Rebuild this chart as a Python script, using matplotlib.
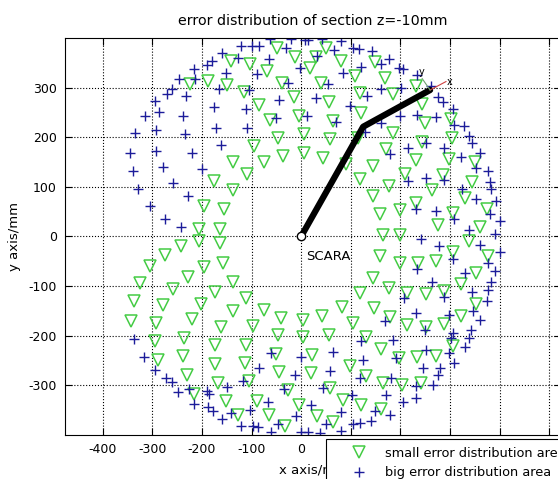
import matplotlib.pyplot as plt
from matplotlib.lines import Line2D

plt.rcParams['font.family'] = ['DejaVu Sans']
plt.rcParams['axes.unicode_minus'] = False

# small error points (green triangles), x/y in mm
small_x = [-48, -12, 17, -141, -104, -68, -225, -188, -149, -115, -39, -15, -84, -62, -5, -47, 5, -95,
           -37, 5, -138, -74, -110, -175, -138, -196, -156, -205, -164,
           50, 30, 81, 148, 109, 170, 41, 118, 185, 231, 56, 244, 121, 64, 249, 185, 303, 58, 305, 115,
           44, 172, 244, 231, 299, 350, 145, 209, 286, 118, 177, 345, 145, 264, 330, 232, 158, 199, 306,
           374, 276, 360, 165, 200, 91,
           -205, -164, -242, -275, -305, -196, -158, -228, -325, -138, -258, -173, -336, -279, -201, -111,
           -342, -292, -221, -138, -75, -40, 3, -162, -97, -295, -236, -173, -111, -46, 3, -288, -238,
           -173, -113, -50, -231, -168, -106, -44, 20, -215, -151, -89, -26, -5, -128, -64, -32,
           159, 199, 236, 272, 307, 338, 377, 353, 144, 177, 213, 251, 287, 323, 118, 83, 42, 146, 179,
           213, 251, 287, 323, 353, 105, 56, 131, 160, 197, 234, 272, 307, 21, 98, 131, 166, 204, 242,
           58, 84, 121, 160, 31, 64]
small_y = [379, 362, 340, 354, 347, 334, 307, 313, 305, 290, 310, 280, 264, 235, 243, 199, 206, 183,
           162, 169, 150, 149, 126, 112, 94, 62, 55, 15, 15,
           379, 362, 354, 352, 323, 320, 310, 289, 287, 303, 270, 266, 248, 233, 228, 209, 236, 196, 199, 199,
           159, 176, 191, 154, 157, 150, 142, 126, 123, 115, 101, 110, 81, 94, 77, 67, 45, 54, 48,
           55, 23, 18, 3, 3, 145,
           -10, -13, -20, -37, -60, -62, -54, -81, -94, -92, -105, -111, -131, -139, -136, -124,
           -170, -174, -166, -150, -148, -164, -168, -183, -181, -211, -205, -218, -218, -199, -203, -248, -240,
           -258, -255, -237, -280, -295, -292, -273, -276, -317, -331, -331, -309, -339, -360, -359, -381,
           -40, -54, -54, -50, -32, -9, -40, -74, -84, -103, -114, -116, -109, -96, -114, -143, -160, -144, -163,
           -179, -183, -177, -161, -136, -174, -199, -203, -226, -244, -242, -240, -221, -238, -262, -282, -295, -300,
           -295, -305, -329, -340, -347, -362, -374]

# big error points (blue plus)
big_x = [-62, -21, 7, 14, -121, -99, -84, -160, -128, -180, -190, -64, -31, -2, -215, -151, -89, -213,
         -246, -260, -270, -232, -166, -106, -27, -294, -286, -315, -238, -176, -111, -44, -50, 12, -334,
         -293, -235, -171, -109, -344, -292, -221, -161, -339, -279, -200, -328, -258, -305, -228, -275, -242,
         43, 81, 105, 117, 142, 177, 31, 66, 121, 160, 197, 205, 234, 85, 54, 162, 202, 262, 30, 98, 132,
         199, 234, 271, 276, 286, 307, 71, 162, 309, 328, 338, 345, 128, 215, 251, 289, 323, 361, 179,
         353, 377, 215, 251, 288, 325, 380, 383, 352, 393, 232, 272, 309, 380, 400, 338,
         -336, -317, -294, -272, -260, -248, -226, -215, -189, -185, -188, -178, -149, -160, -141, -117,
         -104, -84, -67, -60, -121, -97, -87, -46, -60, -35, -13, 0, -10, 0, 13, 19,
         242, 278, 307, 361, 390, 400, 234, 330, 377, 390, 264, 345, 383, 377, 207, 289, 374, 231, 170,
         299, 346, 361, 249, 306, 303, 343, 338, 121, 185, 331, 251, 64, 125, 192, 299, 309, 246, 280,
         276, 58, 118, 182, 231, 266, 44, 103, 172, 232, 205, 81, 148, 179, 140, 105, 118, 51, 81, 38]
big_y = [397, 397, 396, 396, 383, 383, 383, 369, 360, 354, 345, 358, 379, 340, 337, 330, 328, 317,
         317, 297, 287, 282, 298, 295, 309, 273, 251, 243, 243, 260, 256, 275, 238, 243, 208,
         215, 206, 219, 219, 169, 172, 168, 184, 132, 139, 136, 95, 107, 62, 81, 36, 20,
         397, 394, 379, 377, 374, 358, 364, 376, 342, 347, 339, 337, 325, 330, 307, 297, 300, 303, 278, 262, 283,
         243, 245, 240, 280, 270, 256, 231, 228, 224, 223, 203, 189, 211, 179, 188, 179, 161, 169, 166,
         137, 132, 112, 117, 114, 95, 109, 95, 75, 72, 56, 52, 35, 45, 32, 13,
         -206, -242, -270, -285, -293, -314, -307, -338, -312, -317, -344, -352, -304, -367, -356, -292,
         -349, -265, -334, -235, -381, -381, -383, -378, -394, -307, -279, -242, -362, -393, -393, -339,
         -5, -20, -45, -18, 4, -32, -65, -74, -54, -70, -91, -111, -91, -107, -124, -123, -131, -154, -171,
         -159, -151, -168, -188, -195, -205, -188, -205, -210, -208, -223, -228, -232, -248, -245, -235, -255, -265, -265,
         -279, -272, -285, -285, -302, -300, -305, -320, -320, -326, -334, -354, -352, -359, -372, -378, -376, -378, -391, -396]

# SCARA arm: base, elbow, end effector
arm_x = [0, 125, 260]
arm_y = [0, 221, 295]

x_ticks = list(range(-400, 501, 100))
y_ticks = list(range(-300, 301, 100))

green = '#44cc44'
blue = '#1c1c9a'

fig = plt.figure(figsize=(5.58, 4.79), dpi=100)
ax = fig.add_axes([0.1165, 0.0919, 0.889, 0.829])

ax.plot(small_x, small_y, 'v', markerfacecolor='none', markeredgecolor=green,
        markersize=8.5, markeredgewidth=1.1, linestyle='none')
ax.plot(big_x, big_y, '+', color=blue, markersize=7.5, markeredgewidth=1.0, linestyle='none')

ax.plot(arm_x, arm_y, color='black', linewidth=4.5, solid_capstyle='round', zorder=5)
ax.plot([0], [0], 'o', markerfacecolor='white', markeredgecolor='black', markersize=6, zorder=6)
ax.plot([arm_x[2], 292], [arm_y[2], 312], color='#d04040', linewidth=0.8, zorder=6)
ax.plot([arm_x[2], 244], [arm_y[2], 318], color='#70a070', linewidth=0.8, zorder=6)
ax.text(293, 312, 'x', fontsize=7, va='center', ha='left', zorder=7)
ax.text(238, 322, 'y', fontsize=7, va='bottom', ha='left', zorder=7)
ax.text(10, -40, 'SCARA', fontsize=9.5, va='center', ha='left')

ax.set_xlim(-476, 524)
ax.set_ylim(-400, 400)
ax.set_xticks(x_ticks)
ax.set_yticks(y_ticks)
ax.tick_params(direction='in', length=5, width=0.8, labelsize=9, pad=6, top=True, right=True)
ax.grid(True, linestyle=':', color='black', linewidth=0.8)
for s in ax.spines.values():
    s.set_linewidth(0.8)

ax.set_title('error distribution of section z=-10mm', fontsize=10.3, pad=9)
ax.set_xlabel('x axis/mm', fontsize=9.5, labelpad=5)
ax.set_ylabel('y axis/mm', fontsize=9.5, labelpad=5)

handles = [Line2D([], [], marker='v', linestyle='none', markerfacecolor='none',
                  markeredgecolor=green, markersize=8.5, markeredgewidth=1.1),
           Line2D([], [], marker='+', linestyle='none', color=blue, markersize=7.5,
                  markeredgewidth=1.0)]
leg = fig.legend(handles, ['small error distribution area', 'big error distribution area'],
                 loc='upper left', bbox_to_anchor=(0.584, 0.0835), fontsize=9.3,
                 frameon=True, fancybox=False, edgecolor='black', framealpha=1,
                 borderpad=0.6, handlelength=4, handletextpad=0,
                 labelspacing=0.5, borderaxespad=0)
leg.get_frame().set_linewidth(0.8)
leg.set_zorder(10)

fig.savefig('out.png', dpi=100)
